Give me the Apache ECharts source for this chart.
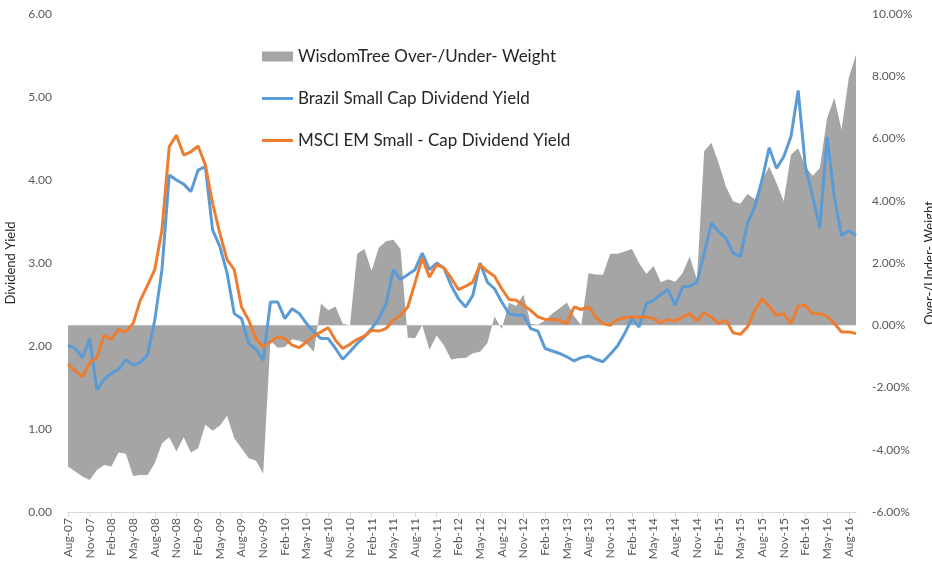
<!DOCTYPE html>
<html>
<head>
<meta charset="utf-8">
<script src="https://cdn.jsdelivr.net/npm/echarts@6/dist/echarts.min.js"></script>
<style>
  html, body { margin: 0; padding: 0; background: #fff; }
  #chart { width: 932px; height: 567px; }
</style>
</head>
<body>
<div id="chart"></div>
<script>
// monthly, Aug-07 .. Sep-16
const monthNames = ["Jan", "Feb", "Mar", "Apr", "May", "Jun", "Jul", "Aug", "Sep", "Oct", "Nov", "Dec"];
const months = [];
for (let k = 0; k < 110; k++) {
  const m = (7 + k) % 12;
  const y = 7 + Math.floor((7 + k) / 12);
  months.push(monthNames[m] + "-" + String(y).padStart(2, "0"));
}

// Brazil small cap dividend yield (left axis)
const brazilYield = [
  2.01, 1.97, 1.86, 2.09, 1.47, 1.60, 1.67, 1.72, 1.83, 1.77,
  1.80, 1.89, 2.31, 2.92, 4.06, 4.00, 3.95, 3.86, 4.12, 4.16,
  3.40, 3.20, 2.88, 2.39, 2.33, 2.03, 1.96, 1.83, 2.53, 2.53,
  2.33, 2.45, 2.39, 2.27, 2.17, 2.09, 2.09, 1.97, 1.84, 1.93,
  2.03, 2.11, 2.21, 2.33, 2.51, 2.92, 2.80, 2.86, 2.92, 3.12,
  2.92, 3.00, 2.94, 2.73, 2.57, 2.47, 2.61, 3.00, 2.77, 2.69,
  2.53, 2.39, 2.37, 2.37, 2.21, 2.18, 1.97, 1.94, 1.91, 1.87,
  1.82, 1.86, 1.88, 1.84, 1.81, 1.90, 2.00, 2.15, 2.33, 2.23,
  2.51, 2.55, 2.62, 2.68, 2.49, 2.71, 2.72, 2.77, 3.12, 3.48,
  3.38, 3.30, 3.12, 3.08, 3.48, 3.68, 4.00, 4.39, 4.14, 4.28,
  4.52, 5.08, 4.16, 3.80, 3.42, 4.52, 3.80, 3.33, 3.39, 3.33
];

// MSCI EM small cap dividend yield (left axis)
const msciYield = [
  1.78, 1.70, 1.63, 1.80, 1.86, 2.13, 2.08, 2.20, 2.17, 2.27,
  2.55, 2.73, 2.92, 3.40, 4.40, 4.54, 4.30, 4.34, 4.41, 4.18,
  3.72, 3.36, 3.04, 2.92, 2.47, 2.31, 2.09, 1.99, 2.05, 2.11,
  2.09, 2.01, 1.98, 2.05, 2.12, 2.17, 2.22, 2.07, 1.97, 2.02,
  2.08, 2.12, 2.19, 2.18, 2.21, 2.31, 2.37, 2.47, 2.76, 3.06,
  2.83, 2.98, 2.94, 2.82, 2.68, 2.72, 2.77, 2.98, 2.90, 2.84,
  2.69, 2.56, 2.55, 2.49, 2.43, 2.35, 2.32, 2.32, 2.31, 2.27,
  2.47, 2.44, 2.47, 2.35, 2.27, 2.25, 2.32, 2.34, 2.35, 2.35,
  2.35, 2.33, 2.28, 2.32, 2.30, 2.35, 2.39, 2.30, 2.40, 2.35,
  2.27, 2.31, 2.16, 2.14, 2.23, 2.43, 2.57, 2.48, 2.37, 2.39,
  2.27, 2.48, 2.49, 2.39, 2.39, 2.36, 2.27, 2.17, 2.17, 2.15
];

// WisdomTree over-/under-weight, % (right axis)
const overUnderWeight = [
  -4.54, -4.70, -4.86, -4.97, -4.65, -4.49, -4.54, -4.09, -4.13, -4.84,
  -4.81, -4.81, -4.43, -3.79, -3.60, -4.06, -3.60, -4.09, -3.95, -3.20,
  -3.39, -3.23, -2.91, -3.63, -3.95, -4.27, -4.35, -4.76, -0.50, -0.72,
  -0.70, -0.45, -0.50, -0.60, -0.85, 0.70, 0.48, 0.60, 0.05, 0.00,
  2.30, 2.45, 1.75, 2.50, 2.70, 2.75, 2.45, -0.40, -0.42, 0.00,
  -0.79, -0.33, -0.65, -1.10, -1.06, -1.05, -0.90, -0.85, -0.58, 0.28,
  -0.12, 0.72, 0.62, 0.98, 0.05, 0.02, 0.15, 0.38, 0.55, 0.73,
  0.30, 0.00, 1.67, 1.63, 1.62, 2.30, 2.30, 2.37, 2.45, 2.00,
  1.65, 1.90, 1.38, 1.48, 1.40, 1.67, 2.21, 1.46, 5.59, 5.86,
  5.21, 4.46, 3.98, 3.90, 4.22, 4.05, 4.68, 5.10, 4.57, 3.98,
  5.48, 5.69, 5.10, 4.80, 5.05, 6.66, 7.30, 6.28, 7.95, 8.69
];

const FONT = "Lato";
const LABEL_COLOR = "#595959";
const LINE_ICON = "path://M0,0H31V3H0Z";

const chart = echarts.init(document.getElementById("chart"));

chart.setOption({
  animation: false,
  textStyle: { fontFamily: FONT },
  legend: {
    orient: "vertical",
    left: 257,
    top: 43,
    itemWidth: 31,
    itemHeight: 10,
    itemGap: 25,
    textStyle: { fontFamily: FONT, fontSize: 17, color: "#262626" },
    data: [
      { name: "WisdomTree Over-/Under- Weight", icon: "rect" },
      { name: "Brazil Small Cap Dividend Yield", icon: LINE_ICON },
      { name: "MSCI EM Small - Cap Dividend Yield", icon: LINE_ICON },
    ],
  },
  grid: {
    left: 68,
    right: 76,
    top: 14,
    bottom: 55,
    containLabel: false,
    outerBoundsMode: "none",
  },
  xAxis: {
    type: "category",
    data: months,
    boundaryGap: false,
    axisLine: { lineStyle: { color: "#d9d9d9" } },
    axisTick: { interval: 2, length: 5, lineStyle: { color: "#d9d9d9" } },
    axisLabel: {
      interval: 2,
      rotate: 90,
      color: LABEL_COLOR,
      fontSize: 12,
      fontFamily: FONT,
      margin: 6,
    },
  },
  yAxis: [
    {
      type: "value",
      min: 0,
      max: 6,
      interval: 1,
      name: "Dividend Yield",
      nameLocation: "middle",
      nameRotate: 90,
      nameGap: 50,
      nameTextStyle: { color: "#262626", fontSize: 13, fontFamily: FONT },
      axisLine: { show: false },
      axisTick: { show: false },
      splitLine: { show: false },
      axisLabel: {
        color: LABEL_COLOR,
        fontSize: 12,
        fontFamily: FONT,
        margin: 16,
        formatter: (v) => v.toFixed(2),
      },
    },
    {
      type: "value",
      min: -6,
      max: 10,
      interval: 2,
      position: "right",
      name: "Over-/Under- Weight",
      nameLocation: "middle",
      nameRotate: 90,
      nameGap: 67,
      nameTextStyle: { color: "#262626", fontSize: 13, fontFamily: FONT },
      axisLine: { show: false },
      axisTick: { show: false },
      splitLine: { show: false },
      axisLabel: {
        color: LABEL_COLOR,
        fontSize: 12,
        fontFamily: FONT,
        margin: 16,
        formatter: (v) => v.toFixed(2) + "%",
      },
    },
  ],
  series: [
    {
      name: "WisdomTree Over-/Under- Weight",
      type: "line",
      yAxisIndex: 1,
      data: overUnderWeight,
      symbol: "none",
      lineStyle: { width: 0 },
      itemStyle: { color: "#a5a5a5" },
      areaStyle: { color: "#a5a5a5", opacity: 1 },
    },
    {
      name: "Brazil Small Cap Dividend Yield",
      type: "line",
      yAxisIndex: 0,
      data: brazilYield,
      symbol: "none",
      lineStyle: { width: 3, color: "#5b9bd5" },
      itemStyle: { color: "#5b9bd5" },
    },
    {
      name: "MSCI EM Small - Cap Dividend Yield",
      type: "line",
      yAxisIndex: 0,
      data: msciYield,
      symbol: "none",
      lineStyle: { width: 3, color: "#ed7d31" },
      itemStyle: { color: "#ed7d31" },
    },
  ],
});
</script>
</body>
</html>
